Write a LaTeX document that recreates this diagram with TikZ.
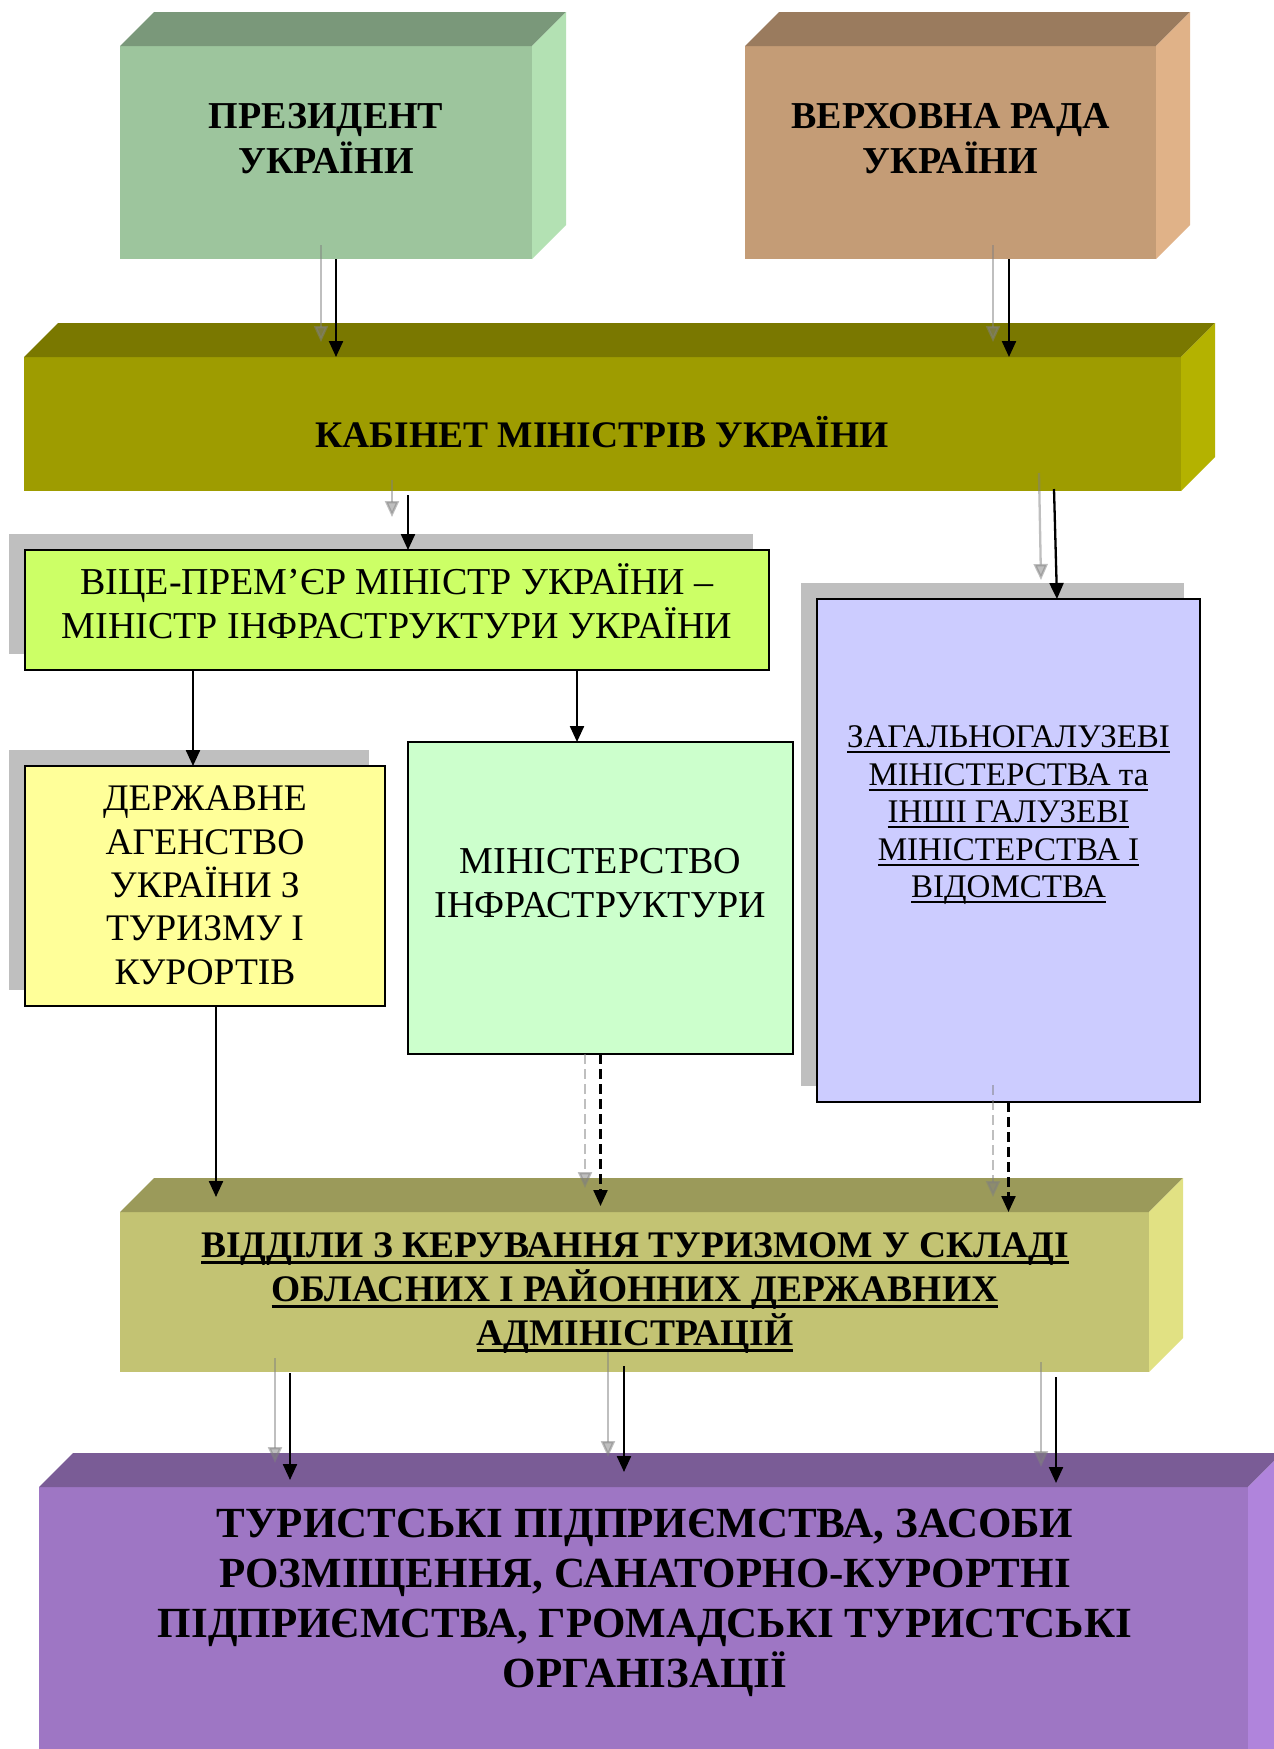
\documentclass[tikz,border=0pt]{standalone}
\usepackage{fontspec}
\setmainfont{Liberation Serif}
\usetikzlibrary{arrows.meta,calc,shadows}
\definecolor{presF}{HTML}{9DC59D}\definecolor{presT}{HTML}{7A987A}\definecolor{presR}{HTML}{B3E1B3}
\definecolor{vrF}{HTML}{C49C76}\definecolor{vrT}{HTML}{9A7B5E}\definecolor{vrR}{HTML}{E0B288}
\definecolor{kmuF}{HTML}{9E9C00}\definecolor{kmuT}{HTML}{7A7800}\definecolor{kmuR}{HTML}{B4B200}
\definecolor{vidF}{HTML}{C3C373}\definecolor{vidT}{HTML}{9B9A5A}\definecolor{vidR}{HTML}{E1E183}
\definecolor{turF}{HTML}{9E76C4}\definecolor{turT}{HTML}{7A5C96}\definecolor{turR}{HTML}{B084DC}
\definecolor{viceF}{HTML}{CCFF66}\definecolor{daF}{HTML}{FFFF99}\definecolor{minF}{HTML}{CCFFCC}
\definecolor{zagF}{HTML}{CCCCFF}\definecolor{shadowc}{HTML}{BFBFBF}\definecolor{gmid}{HTML}{808080}
\newsavebox\ulbox
\newcommand\ulin[3]{\sbox\ulbox{#3}\rlap{\rule[-#1]{\wd\ulbox}{#2}}\usebox\ulbox}
\newcommand\fst{\rule{0pt}{1em}}
\newcommand\boxthreed[3]{%
  \fill[#2] (#1.north west) -- ++(34pt,34pt) -- ([shift={(34pt,34pt)}]#1.north east) -- (#1.north east) -- cycle;
  \fill[#3] (#1.north east) -- ++(34pt,34pt) -- ([shift={(34pt,34pt)}]#1.south east) -- (#1.south east) -- cycle;}
\tikzset{
  face/.style={rectangle, inner sep=0, outer sep=0, draw=none},
  flat/.style={rectangle, inner sep=0, outer sep=0, draw=black, line width=2pt},
  shd/.style={general shadow={fill=shadowc, shadow xshift=-16pt, shadow yshift=16pt}},
  barr/.style={draw=black, line width=2.3pt, -{Triangle[length=16pt,width=14pt]}},
  garr/.style={draw=gmid, line width=2.3pt, opacity=0.5, -{Triangle[length=16pt,width=14pt]}},
  dsh/.style={dash pattern=on 10pt off 5pt},
  txt/.style={inner sep=0, outer sep=0, align=center, anchor=north},
}
\begin{document}
\begin{tikzpicture}[x=1pt,y=-1pt]
\clip (0,0) rectangle (1274,1749);
\fill[white] (0,0) rectangle (1274,1749);
% 3D boxes
\node[face, fill=presF, minimum width=412pt, minimum height=213pt] (pres) at (326,152.5) {};
\boxthreed{pres}{presT}{presR}
\node[face, fill=vrF, minimum width=411pt, minimum height=213pt] (vr) at (950.5,152.5) {};
\boxthreed{vr}{vrT}{vrR}
\node[face, fill=kmuF, minimum width=1157pt, minimum height=134pt] (kmu) at (602.5,424) {};
\boxthreed{kmu}{kmuT}{kmuR}
\node[face, fill=vidF, minimum width=1029pt, minimum height=160pt] (vid) at (634.5,1292) {};
\boxthreed{vid}{vidT}{vidR}
\node[face, fill=turF, minimum width=1209pt, minimum height=313pt] (tur) at (643.5,1643.5) {};
\boxthreed{tur}{turT}{turR}
% flat boxes
\node[flat, shd, fill=viceF, minimum width=744pt, minimum height=120pt] (vice) at (397,610) {};
\node[flat, shd, fill=daF, minimum width=360pt, minimum height=240pt] (da) at (205,886) {};
\node[flat, fill=minF, minimum width=385pt, minimum height=312pt] (min) at (600.5,898) {};
\node[flat, shd, fill=zagF, minimum width=383pt, minimum height=503pt] (zag) at (1008.5,850.5) {};
% arrows
\draw[garr] ($(pres.south)+(-5pt,14pt)$) -- ($(pres.south |- kmu.north)+(-5pt,15pt)$);
\draw[barr] ($(pres.south)+(10pt,0)$) -- ($(pres.south |- kmu.north)+(10pt,0)$);
\draw[garr] ($(vr.south)+(42.5pt,14pt)$) -- ($(vr.south |- kmu.north)+(42.5pt,15pt)$);
\draw[barr] ($(vr.south)+(58.5pt,0)$) -- ($(vr.south |- kmu.north)+(58.5pt,0)$);
\draw[garr] ($(vice.north |- kmu.south)+(-5pt,11pt)$) -- ($(vice.north)+(-5pt,33pt)$);
\draw[barr] ($(vice.north |- kmu.south)+(11pt,-4pt)$) -- ($(vice.north)+(11pt,0)$);
\draw[garr] ($(zag.north |- kmu.south)+(30.5pt,18pt)$) -- ($(zag.north)+(32.5pt,19pt)$);
\draw[barr] ($(zag.north |- kmu.south)+(45.5pt,2pt)$) -- ($(zag.north)+(48.5pt,0)$);
\draw[barr] ($(da.north |- vice.south)+(-12pt,0)$) -- ($(da.north)+(-12pt,0)$);
\draw[barr] ($(min.north |- vice.south)+(-23.5pt,0)$) -- ($(min.north)+(-23.5pt,0)$);
\draw[barr] ($(da.south)+(11pt,0)$) -- ($(da.south |- vid.north)+(11pt,15pt)$);
\draw[garr,dsh] ($(min.south)+(-15.5pt,0)$) -- ($(min.south |- vid.north)+(-15.5pt,24pt)$);
\draw[barr,dsh] (min.south) -- ($(min.south |- vid.north)+(0,6pt)$);
\draw[garr,dsh] ($(zag.south)+(-15.5pt,17pt)$) -- ($(zag.south |- vid.north)+(-15.5pt,15pt)$);
\draw[barr,dsh] (zag.south) -- (zag.south |- vid.north);
\draw[garr] ($(vid.south)+(-359.5pt,14pt)$) -- ($(vid.south |- tur.north)+(-359.5pt,24pt)$);
\draw[barr] ($(vid.south)+(-344.5pt,-1pt)$) -- ($(vid.south |- tur.north)+(-344.5pt,7pt)$);
\draw[garr] ($(vid.south)+(-26.5pt,22pt)$) -- ($(vid.south |- tur.north)+(-26.5pt,30pt)$);
\draw[barr] ($(vid.south)+(-10.5pt,6pt)$) -- ($(vid.south |- tur.north)+(-10.5pt,15pt)$);
\draw[garr] ($(vid.south)+(406.5pt,10pt)$) -- ($(vid.south |- tur.north)+(406.5pt,20pt)$);
\draw[barr] ($(vid.south)+(421.5pt,-5pt)$) -- ($(vid.south |- tur.north)+(421.5pt,4pt)$);
% texts
\node[txt, font=\fontsize{38}{45}\selectfont\bfseries] (ptxt) at (326,90.4) {\fst ПРЕЗИДЕНТ\\УКРАЇНИ};
\node[txt, font=\fontsize{38}{45}\selectfont\bfseries] (vtxt) at (950.5,90.4) {\fst ВЕРХОВНА РАДА\\УКРАЇНИ};
\node[txt, font=\fontsize{37.5}{45}\selectfont\bfseries] (ktxt) at (602,409.8) {\fst КАБІНЕТ МІНІСТРІВ УКРАЇНИ};
\node[txt, font=\fontsize{38}{44}\selectfont] (vitxt) at (397,556.4) {\fst ВІЦЕ-ПРЕМ’ЄР МІНІСТР УКРАЇНИ –\\МІНІСТР ІНФРАСТРУКТУРИ УКРАЇНИ};
\node[txt, font=\fontsize{37.5}{43.3}\selectfont] (dtxt) at (205,773.3) {\fst ДЕРЖАВНЕ\\АГЕНСТВО\\УКРАЇНИ З\\ТУРИЗМУ І\\КУРОРТІВ};
\node[txt, font=\fontsize{38}{44}\selectfont] (mtxt) at (600.5,835) {\fst МІНІСТЕРСТВО\\ІНФРАСТРУКТУРИ};
\node[txt, font=\fontsize{33}{37.5}\selectfont] (ztxt) at (1008.5,714.8) {\fst\ulin{5.4pt}{2pt}{ЗАГАЛЬНОГАЛУЗЕВІ}\\\ulin{5.4pt}{2pt}{МІНІСТЕРСТВА та}\\\ulin{5.4pt}{2pt}{ІНШІ ГАЛУЗЕВІ}\\\ulin{5.4pt}{2pt}{МІНІСТЕРСТВА І}\\\ulin{5.4pt}{2pt}{ВІДОМСТВА}};
\node[txt, font=\fontsize{37.5}{44}\selectfont\bfseries] (vdtxt) at (635,1219.8) {\fst\ulin{7pt}{3pt}{ВІДДІЛИ З КЕРУВАННЯ ТУРИЗМОМ У СКЛАДІ}\\\ulin{7pt}{3pt}{ОБЛАСНИХ І РАЙОННИХ ДЕРЖАВНИХ}\\\ulin{7pt}{3pt}{АДМІНІСТРАЦІЙ}};
\node[txt, font=\fontsize{43}{50}\selectfont\bfseries] (ttxt) at (645,1494.1) {\fst ТУРИСТСЬКІ ПІДПРИЄМСТВА, ЗАСОБИ\\РОЗМІЩЕННЯ, САНАТОРНО-КУРОРТНІ\\ПІДПРИЄМСТВА, ГРОМАДСЬКІ ТУРИСТСЬКІ\\ОРГАНІЗАЦІЇ};
\end{tikzpicture}
\end{document}
